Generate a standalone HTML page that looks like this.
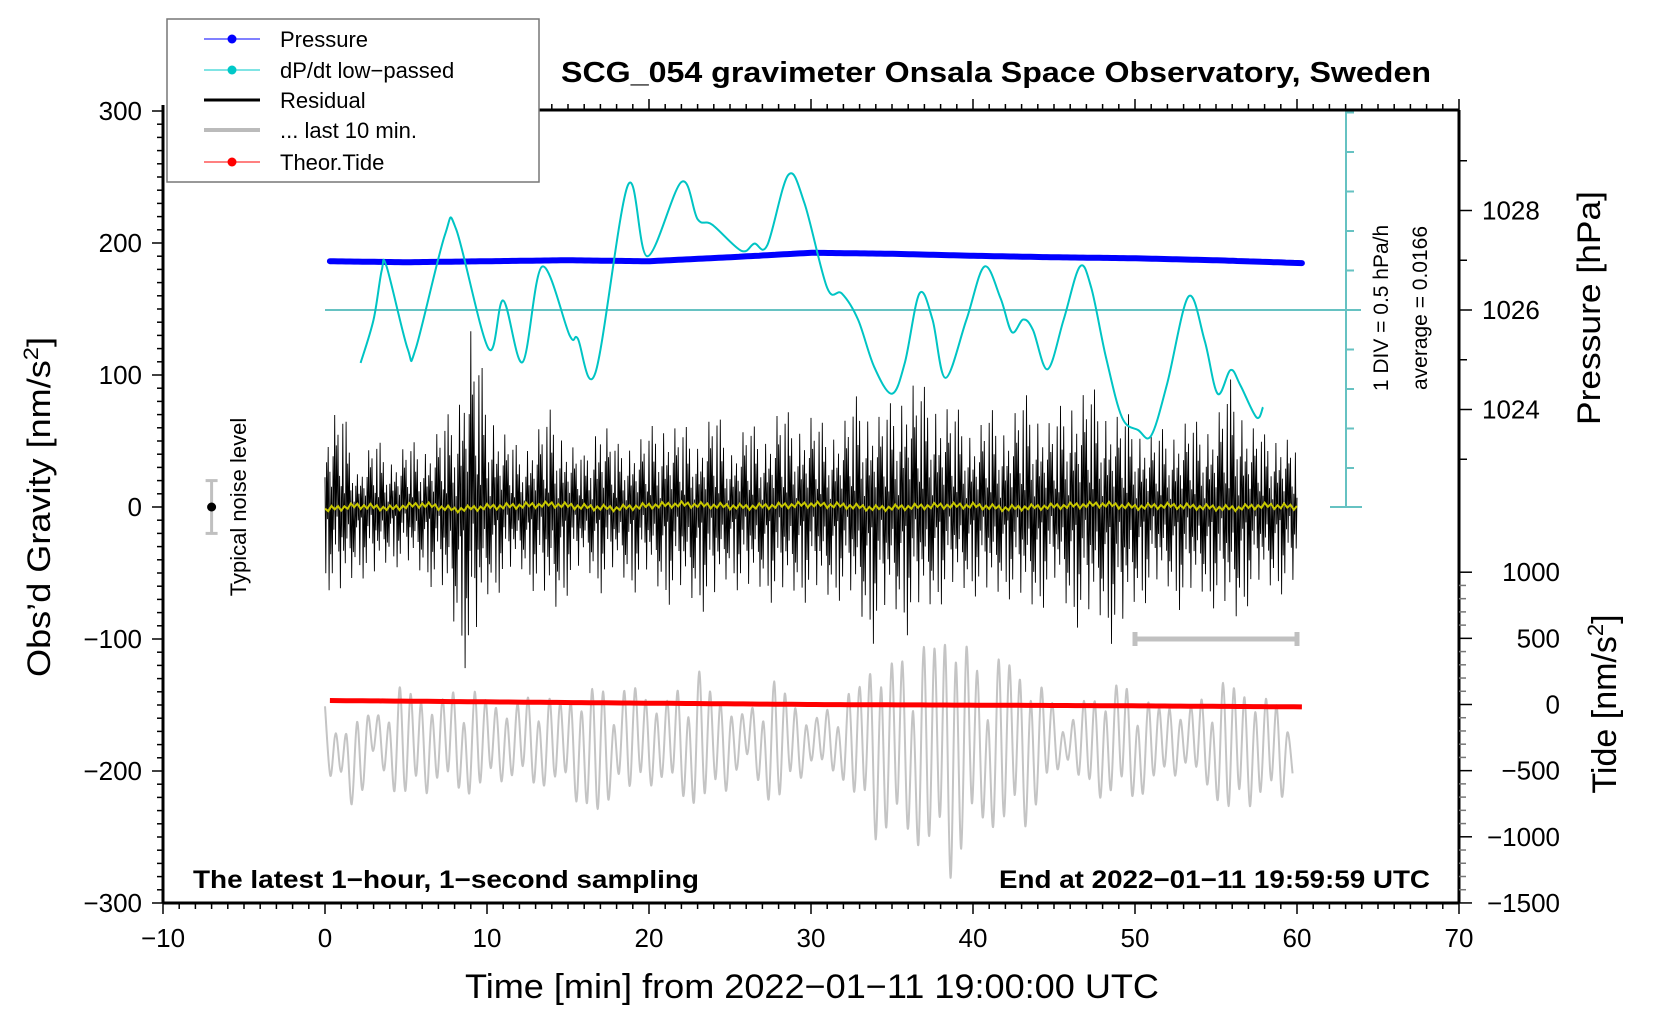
<!DOCTYPE html>
<html><head><meta charset="utf-8"><style>
html,body{margin:0;padding:0;background:#fff;}
svg{display:block;font-family:"Liberation Sans",Arial,sans-serif;}
</style></head><body>
<svg id="chart" width="1660" height="1020" viewBox="0 0 1660 1020" xmlns="http://www.w3.org/2000/svg">
<rect x="0" y="0" width="1660" height="1020" fill="#fff"/>
<g id="marks"></g>
<g id="axes"></g>
<text x="996" y="82" font-size="29" font-weight="bold" text-anchor="middle" textLength="870" lengthAdjust="spacingAndGlyphs">SCG_054 gravimeter Onsala Space Observatory, Sweden</text>
<text x="193" y="888" font-size="25" font-weight="bold" textLength="506" lengthAdjust="spacingAndGlyphs">The latest 1−hour, 1−second sampling</text>
<text x="999" y="888" font-size="25" font-weight="bold" textLength="431" lengthAdjust="spacingAndGlyphs">End at 2022−01−11 19:59:59 UTC</text>
<text x="812" y="998" font-size="34" text-anchor="middle" textLength="694" lengthAdjust="spacingAndGlyphs">Time [min] from 2022−01−11 19:00:00 UTC</text>
<text transform="translate(50,507) rotate(-90)" font-size="32" text-anchor="middle" textLength="340" lengthAdjust="spacingAndGlyphs">Obs’d Gravity [nm/s<tspan font-size="21" dy="-12">2</tspan><tspan dy="12">]</tspan></text>
<text transform="translate(1600,308) rotate(-90)" font-size="32" text-anchor="middle" textLength="234" lengthAdjust="spacingAndGlyphs">Pressure [hPa]</text>
<text transform="translate(1616,704) rotate(-90)" font-size="34" text-anchor="middle">Tide [nm/s<tspan font-size="22" dy="-13">2</tspan><tspan dy="13">]</tspan></text>
<text transform="translate(1388,308) rotate(-90)" font-size="21" text-anchor="middle">1 DIV = 0.5 hPa/h</text>
<text transform="translate(1427,308) rotate(-90)" font-size="21" text-anchor="middle">average = 0.0166</text>
<text transform="translate(246,507) rotate(-90)" font-size="22" text-anchor="middle">Typical noise level</text>
<g>
<rect x="167" y="19" width="372" height="163" fill="#fff" stroke="#777" stroke-width="1.5"/>
<g><line x1="204" y1="39" x2="260" y2="39" stroke="#0000ff" stroke-width="1"/><circle cx="232" cy="39" r="4.5" fill="#0000ff"/><text x="280" y="47" font-size="22">Pressure</text></g>
<g><line x1="204" y1="70" x2="260" y2="70" stroke="#00c8c8" stroke-width="1"/><circle cx="232" cy="70" r="4.5" fill="#00c8c8"/><text x="280" y="78" font-size="22">dP/dt low−passed</text></g>
<g><line x1="204" y1="100" x2="260" y2="100" stroke="#000" stroke-width="3"/><text x="280" y="108" font-size="22">Residual</text></g>
<g><line x1="204" y1="130" x2="260" y2="130" stroke="#bbb" stroke-width="4"/><text x="280" y="138" font-size="22">... last 10 min.</text></g>
<g><line x1="204" y1="162" x2="260" y2="162" stroke="#ff0000" stroke-width="1"/><circle cx="232" cy="162" r="4.5" fill="#ff0000"/><text x="280" y="170" font-size="22">Theor.Tide</text></g>
</g>
</svg>
<script>
// ---- data ----
const residualTop = [75,79,31,55,39,51,47,63,75,148,87,63,43,63,75,55,39,79,47,55,59,71,63,55,79,47,67,55,79,67,75,59,71,87,75,79,107,91,87,75,63,75,67,87,79,67,91,95,83,75,67,59,59,71,63,75,99,71,55,63,47];
const residualBottom = [-58,-78,-50,-62,-42,-50,-54,-66,-98,-135,-74,-62,-50,-66,-90,-66,-50,-66,-54,-66,-58,-74,-74,-78,-82,-54,-74,-66,-78,-70,-74,-74,-70,-90,-106,-82,-98,-86,-74,-70,-66,-78,-66,-82,-82,-66,-86,-98,-90,-115,-78,-70,-66,-82,-70,-78,-98,-74,-66,-66,-70];
const grayUpper = [-151,-179,-147,-163,-139,-135,-143,-147,-135,-139,-143,-151,-147,-135,-147,-143,-139,-131,-147,-131,-143,-147,-131,-123,-139,-147,-159,-135,-131,-147,-163,-151,-147,-131,-110,-115,-106,-106,-94,-82,-115,-123,-110,-123,-131,-147,-167,-139,-143,-131,-135,-151,-147,-155,-143,-135,-131,-139,-143,-147,-155];
const grayLower = [-211,-207,-235,-191,-219,-227,-219,-211,-227,-223,-215,-207,-211,-223,-211,-219,-227,-268,-203,-227,-211,-211,-235,-231,-227,-211,-195,-227,-231,-211,-195,-207,-211,-235,-252,-260,-268,-268,-276,-284,-260,-252,-252,-244,-235,-211,-191,-227,-219,-227,-235,-211,-211,-195,-219,-227,-244,-227,-223,-235,-195];
const yellowMean = [-2,1,-1,2,-2,0,1,2,0,-1,1,2,1,0,1,2,1,-1,0,1,1,-1,0,1,2,0,1,0,-1,1,0];
const pressureTime = [0.3,5,10,15,20,25,30,35,40,45,50,55,60.5];
const pressureVal = [1026.98,1026.96,1026.98,1027.0,1026.98,1027.06,1027.15,1027.13,1027.09,1027.06,1027.04,1027.0,1026.94];
const dpdtTime = [2.2,3,3.5,3.8,5.1,5.6,7.4,8.1,10.1,11,12.2,13.4,15.1,15.6,16.7,18.7,19.9,22,23,23.9,25.7,26.5,27.3,28.6,29.6,31,31.9,32.9,33.9,35,35.8,36.7,37.5,38.3,39.6,40.7,41.7,42.4,43.1,43.7,44.6,45.6,46.6,47.3,48.2,49.2,50.2,51,52,53.3,54.3,55.1,55.9,56.5,57.5,57.9];
const dpdtVal = [-0.67,-0.12,0.5,0.55,-0.49,-0.49,0.95,1.02,-0.49,0.12,-0.66,0.55,-0.32,-0.36,-0.79,1.58,0.68,1.62,1.15,1.08,0.75,0.84,0.82,1.71,1.35,0.28,0.21,-0.12,-0.72,-1.06,-0.66,0.21,-0.12,-0.86,-0.12,0.55,0.15,-0.28,-0.12,-0.25,-0.75,-0.12,0.55,0.28,-0.59,-1.36,-1.52,-1.59,-0.92,0.17,-0.39,-1.06,-0.76,-0.95,-1.36,-1.23];
const tideTime = [0.3,10,20,30,40,50,60.5];
const tideVal = [30,20,10,0,-5,-10,-18];
const xTicks = [-10,0,10,20,30,40,50,60,70];
const gravTicks = [300,200,100,0,-100,-200,-300];
const pressTicks = [1028,1026,1024];
const tideTicks = [1000,500,0,-500,-1000,-1500];
// ---- scales ----
const X = t => 325 + t*16.2;
const YG = v => 507 - v*1.32;
const YP = p => 310 - (p-1026)*49.75;
const YT = v => 704.5 - v*0.1323;
const YD = d => 310 - d*79;
const NS = 'http://www.w3.org/2000/svg';
const marks = document.getElementById('marks');
const axes = document.getElementById('axes');
function mk(tag, attrs, parent){ const e=document.createElementNS(NS,tag); for(const k in attrs) e.setAttribute(k,attrs[k]); parent.appendChild(e); return e; }
function interp(arr, t){ const i=Math.max(0,Math.min(arr.length-1,Math.floor(t))); const j=Math.min(arr.length-1,i+1); const f=Math.max(0,Math.min(1,t-i)); return arr[i]*(1-f)+arr[j]*f; }
function interpXY(ts, vs, t){ for(let i=0;i<ts.length-1;i++){ if(t<=ts[i+1]){ const f=(t-ts[i])/(ts[i+1]-ts[i]); return vs[i]*(1-f)+vs[i+1]*f; } } return vs[vs.length-1]; }
function smoothPath(pts){ let d='M'+pts[0][0].toFixed(1)+','+pts[0][1].toFixed(1); for(let i=0;i<pts.length-1;i++){ const p0=pts[Math.max(0,i-1)],p1=pts[i],p2=pts[i+1],p3=pts[Math.min(pts.length-1,i+2)]; const c1=[p1[0]+(p2[0]-p0[0])/6,p1[1]+(p2[1]-p0[1])/6]; const c2=[p2[0]-(p3[0]-p1[0])/6,p2[1]-(p3[1]-p1[1])/6]; d+=' C'+c1[0].toFixed(1)+','+c1[1].toFixed(1)+' '+c2[0].toFixed(1)+','+c2[1].toFixed(1)+' '+p2[0].toFixed(1)+','+p2[1].toFixed(1); } return d; }

// gray last-10-min trace
(function(){
  const mult=[1,0.75,0.9,0.55,0.85,1,0.65,0.8,0.95,0.5,0.9,0.7,0.4,0.85];
  const pts=[]; let k=0;
  for(let t=0;t<=60.0001;t+=0.33){ const hi=interp(grayUpper,t), lo=interp(grayLower,t); const c=(hi+lo)/2, a=(hi-lo)/2*mult[k%mult.length]; pts.push([X(t), YG(k%2===0? c+a : c-a)]); k++; }
  const p=mk('path',{d:smoothPath(pts),fill:'none',stroke:'#c4c4c4','stroke-width':2},marks);
  
  
})();
// red tide
(function(){
  const pts=[]; for(let t=tideTime[0];t<=tideTime[tideTime.length-1]+0.001;t+=0.5){ pts.push(X(t).toFixed(1)+','+YT(interpXY(tideTime,tideVal,t)).toFixed(1)); }
  const p=mk('polyline',{points:pts.join(' '),fill:'none',stroke:'#ff0000','stroke-width':5},marks);
  
  
})();
// residual
(function(){
  const mult=[0.3,0.85,0.45,0.15,0.6,1.0,0.35,0.55,0.2,0.75,0.5,0.25,0.9,0.4,0.6,0.1,0.7,0.45,0.3,0.8,0.2];
  const pts=[]; let k=0;
  for(let t=0;t<=60.0001;t+=1/20){ const hi=interp(residualTop,t), lo=interp(residualBottom,t); const m=mult[k%mult.length]; const v=(k%2===0? hi:lo)*m; pts.push(X(t).toFixed(1)+','+YG(v).toFixed(1)); k++; }
  const p=mk('polyline',{points:pts.join(' '),fill:'none',stroke:'#000','stroke-width':0.9},marks);
  
  
})();
// yellow
(function(){
  const pts=[]; let k=0;
  for(let t=0;t<=60.0001;t+=1/5){ const c=interp(yellowMean,t/2); const v=c+(k%2===0?1.5:-1.5)*((k%3)+1)/2; pts.push(X(t).toFixed(1)+','+YG(v).toFixed(1)); k++; }
  const p=mk('polyline',{points:pts.join(' '),fill:'none',stroke:'#c8c800','stroke-width':2},marks);
  
  
})();
// pressure
(function(){
  const pts=[]; for(let t=pressureTime[0];t<=pressureTime[pressureTime.length-1]+0.001;t+=0.25){ pts.push(X(t).toFixed(1)+','+YP(interpXY(pressureTime,pressureVal,t)).toFixed(1)); }
  const p=mk('polyline',{points:pts.join(' '),fill:'none',stroke:'#0000ff','stroke-width':6,'stroke-linecap':'round'},marks);
  
  
})();
// dp/dt zero line & axis
(function(){
  const g=mk('g',{},marks);
  
  
  mk('line',{x1:X(0),y1:YD(0),x2:1361,y2:YD(0),stroke:'#66c2c2','stroke-width':2},g);
  mk('line',{x1:1346,y1:110,x2:1346,y2:507,stroke:'#66c2c2','stroke-width':2},g);
  mk('line',{x1:1332,y1:110,x2:1362,y2:110,stroke:'#66c2c2','stroke-width':2},g);
  mk('line',{x1:1330,y1:507,x2:1362,y2:507,stroke:'#66c2c2','stroke-width':2},g);
  for(let d=-2.5;d<=2.51;d+=0.5){ const y=YD(d); if(y>111&&y<506) mk('line',{x1:1346,y1:y,x2:1354,y2:y,stroke:'#66c2c2','stroke-width':2},g); }
})();
// dp/dt curve
(function(){
  const pts=dpdtTime.map((t,i)=>[X(t),YD(dpdtVal[i])]);
  const p=mk('path',{d:smoothPath(pts),fill:'none',stroke:'#00c4c4','stroke-width':2},marks);
  
  
})();
// noise bar & 10-min bar
(function(){
  const g=mk('g',{stroke:'#c0c0c0','stroke-width':3},marks);
  
  
  const x=X(-7);
  mk('line',{x1:x,y1:YG(20),x2:x,y2:YG(-20)},g);
  mk('line',{x1:x-6,y1:YG(20),x2:x+6,y2:YG(20)},g);
  mk('line',{x1:x-6,y1:YG(-20),x2:x+6,y2:YG(-20)},g);
  mk('circle',{cx:x,cy:YG(0),r:4.5,fill:'#000',stroke:'none'},g);
  const b=mk('g',{stroke:'#c0c0c0','stroke-width':5},marks);
  
  
  mk('line',{x1:X(50),y1:YG(-100),x2:X(60),y2:YG(-100)},b);
  mk('line',{x1:X(50),y1:YG(-100)-7,x2:X(50),y2:YG(-100)+7},b);
  mk('line',{x1:X(60),y1:YG(-100)-7,x2:X(60),y2:YG(-100)+7},b);
})();
// axes frame
mk('line',{x1:163,y1:105,x2:163,y2:903,stroke:'#000','stroke-width':3},axes);
mk('line',{x1:163,y1:903,x2:1459,y2:903,stroke:'#000','stroke-width':3},axes);
mk('line',{x1:1459,y1:110,x2:1459,y2:903,stroke:'#000','stroke-width':3},axes);
mk('line',{x1:539,y1:110,x2:1459,y2:110,stroke:'#000','stroke-width':3},axes);
// x ticks
for(let t=-10;t<=70;t++){ const x=X(t), maj=(t%10===0); mk('line',{x1:x,y1:903,x2:x,y2:903+(maj?11:6),stroke:'#000','stroke-width':1.5},axes); if(X(t)>539) mk('line',{x1:x,y1:110,x2:x,y2:110-(maj?11:6),stroke:'#000','stroke-width':1.5},axes); }
xTicks.forEach(t=>{ const e=mk('text',{x:X(t),y:947,'font-size':26,'text-anchor':'middle'},axes); e.textContent=String(t).replace('-','−');
  
   });
// gravity ticks
for(let v=-300;v<=300;v+=10){ const y=YG(v), maj=(v%100===0); mk('line',{x1:163,y1:y,x2:163-(maj?11:6),y2:y,stroke:'#000','stroke-width':1.5},axes); }
gravTicks.forEach(v=>{ const e=mk('text',{x:142,y:YG(v)+9,'font-size':26,'text-anchor':'end'},axes); e.textContent=String(v).replace('-','−');
  
   });
// pressure ticks
for(let p=1023;p<=1029;p++){ const y=YP(p); mk('line',{x1:1459,y1:y,x2:1459+(p%2===0?13:8),y2:y,stroke:'#000','stroke-width':1.5},axes); }
pressTicks.forEach(p=>{ const e=mk('text',{x:1482,y:YP(p)+9,'font-size':26},axes); e.textContent=p;
  
   });
// tide ticks
for(let v=-1500;v<=1000;v+=100){ const y=YT(v), maj=(v%500===0); mk('line',{x1:1459,y1:y,x2:1459+(maj?13:7),y2:y,stroke:maj?'#000':'#777','stroke-width':1.5},axes); }
tideTicks.forEach(v=>{ const e=mk('text',{x:1560,y:YT(v)+9,'font-size':26,'text-anchor':'end'},axes); e.textContent=String(v).replace('-','−');
  
   });
</script>
</body></html>
